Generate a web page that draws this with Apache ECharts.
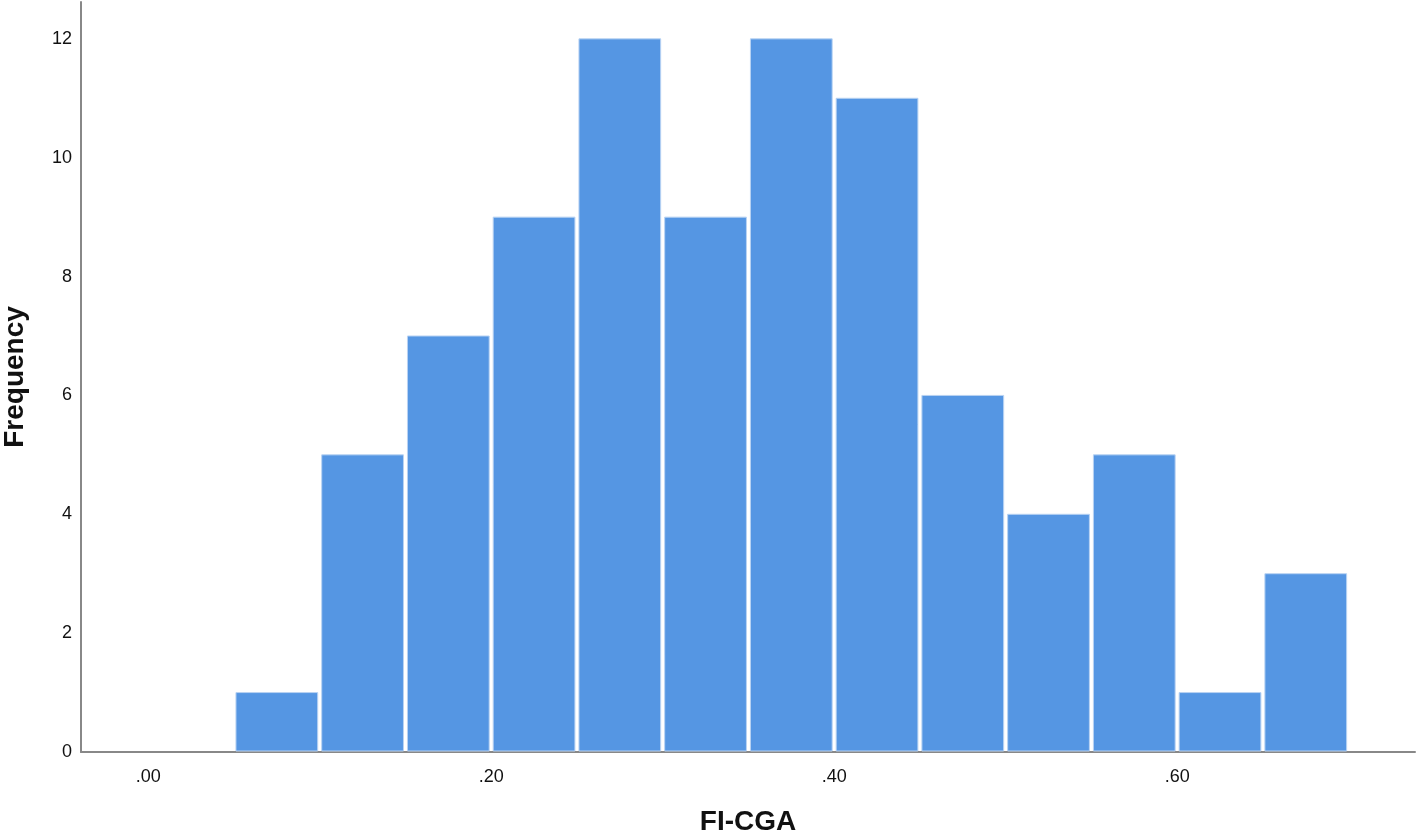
<!DOCTYPE html>
<html>
<head>
<meta charset="utf-8">
<script src="https://cdn.jsdelivr.net/npm/echarts@6/dist/echarts.min.js"></script>
<style>
  html, body { margin: 0; padding: 0; background: #fff; }
  #chart { width: 1418px; height: 836px; }
</style>
</head>
<body>
<div id="chart"></div>
<script>
  // histogram bins (FI-CGA)
  var binStart = [0.05, 0.10, 0.15, 0.20, 0.25, 0.30, 0.35, 0.40, 0.45, 0.50, 0.55, 0.60, 0.65];
  var binEnd   = [0.10, 0.15, 0.20, 0.25, 0.30, 0.35, 0.40, 0.45, 0.50, 0.55, 0.60, 0.65, 0.70];
  var counts   = [1, 5, 7, 9, 12, 9, 12, 11, 6, 4, 5, 1, 3];

  var xTicks = [0, 0.2, 0.4, 0.6];
  var yTicks = [0, 2, 4, 6, 8, 10, 12];

  var barData = [];
  for (var i = 0; i < counts.length; i++) {
    barData.push([binStart[i], binEnd[i], counts[i]]);
  }

  var chart = echarts.init(document.getElementById('chart'));
  chart.setOption({
    animation: false,
    grid: { left: 81, right: 3, top: 2, bottom: 84, outerBoundsMode: 'none', containLabel: false },
    xAxis: {
      type: 'value',
      min: -0.0392,
      max: 0.7387,
      name: 'FI-CGA',
      nameLocation: 'middle',
      nameGap: 56,
      nameTextStyle: { fontFamily: 'Liberation Sans', fontSize: 28, fontWeight: 'bold', color: '#111' },
      axisLine: { show: true, onZero: false, lineStyle: { color: '#888', width: 2 } },
      axisTick: { show: false },
      splitLine: { show: false },
      axisLabel: {
        customValues: xTicks,
        margin: 16,
        fontFamily: 'Liberation Sans',
        fontSize: 18,
        color: '#111',
        formatter: function (v) { return v.toFixed(2).replace(/^0/, ''); }
      }
    },
    yAxis: {
      type: 'value',
      min: 0,
      max: 12.62,
      name: 'Frequency',
      nameLocation: 'middle',
      nameGap: 52,
      nameTextStyle: { fontFamily: 'Liberation Sans', fontSize: 28, fontWeight: 'bold', color: '#111' },
      axisLine: { show: true, onZero: false, lineStyle: { color: '#888', width: 2 } },
      axisTick: { show: false },
      splitLine: { show: false },
      axisLabel: {
        customValues: yTicks,
        margin: 9,
        padding: [6, 0, 0, 0],
        fontFamily: 'Liberation Sans',
        fontSize: 18,
        color: '#111'
      }
    },
    series: [{
      type: 'custom',
      data: barData,
      encode: { x: [0, 1], y: 2 },
      renderItem: function (params, api) {
        var top = api.coord([api.value(0), api.value(2)]);
        var bot = api.coord([api.value(1), 0]);
        return {
          type: 'rect',
          shape: {
            x: top[0] + 2,
            y: top[1],
            width: bot[0] - top[0] - 4,
            height: bot[1] - top[1] - 1
          },
          style: { fill: '#5596e3', stroke: '#b9d3f3', lineWidth: 1 }
        };
      }
    }]
  });
</script>
</body>
</html>
